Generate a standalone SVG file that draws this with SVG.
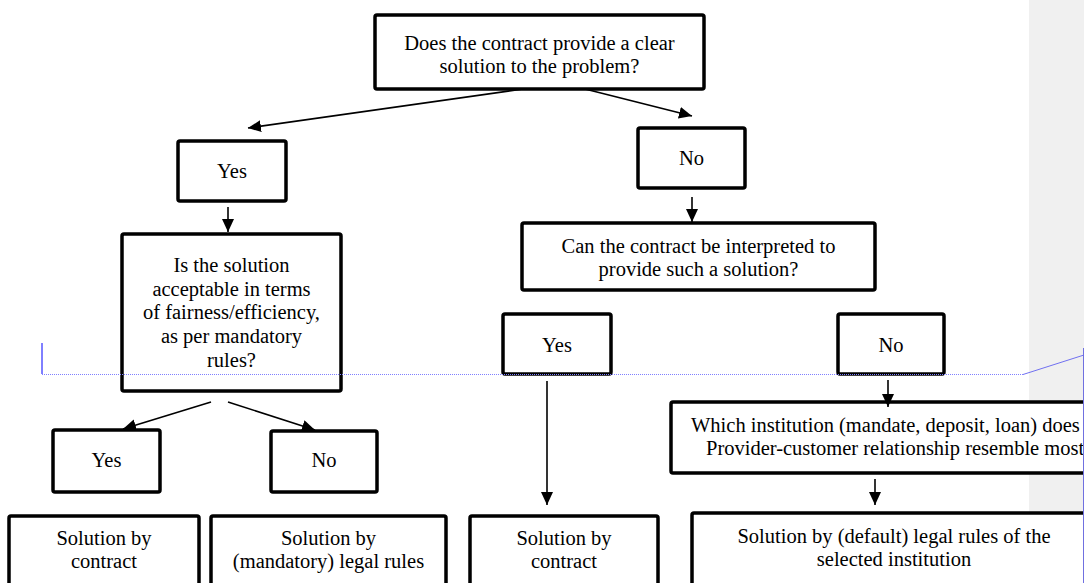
<svg xmlns="http://www.w3.org/2000/svg" width="1084" height="583" viewBox="0 0 1084 583">
<defs>
<style>
.box{fill:#fff;stroke:#000;stroke-width:3.5}
.t{font-family:"Liberation Serif","Times New Roman",serif;font-size:20.5px;fill:#000;text-anchor:middle}
.ts{font-family:"Liberation Serif","Times New Roman",serif;font-size:20.5px;fill:#000}
.c{stroke:#000;stroke-width:1.6;fill:none;marker-end:url(#ah)}
</style>
<marker id="ah" markerUnits="userSpaceOnUse" markerWidth="13" markerHeight="12" refX="13" refY="6" orient="auto" viewBox="0 0 13 12">
<path d="M0,0 L13,6 L0,12 z" fill="#000"/>
</marker>
<clipPath id="cl"><rect x="0" y="0" width="1083" height="583"/></clipPath>
</defs>
<rect x="0" y="0" width="1084" height="583" fill="#fff"/>
<rect x="1029" y="0" width="55" height="583" fill="#f0f0f0"/>

<g id="q1">
<rect class="box" x="375" y="15" width="329" height="74" rx="2"/>
<text class="t" x="539.5" y="50">Does the contract provide a clear</text>
<text class="t" x="539.5" y="73">solution to the problem?</text>
</g>
<g id="yes1">
<rect class="box" x="178" y="141" width="108" height="60" rx="2"/>
<text class="t" x="232" y="178">Yes</text>
</g>
<g id="no1">
<rect class="box" x="638" y="128" width="107" height="60" rx="2"/>
<text class="t" x="691.5" y="165">No</text>
</g>
<g id="q2">
<rect class="box" x="122" y="234" width="219" height="157" rx="2"/>
<text class="t" x="231.5" y="272">Is the solution</text>
<text class="t" x="231.5" y="295.5">acceptable in terms</text>
<text class="t" x="231.5" y="319">of fairness/efficiency,</text>
<text class="t" x="231.5" y="343">as per mandatory</text>
<text class="t" x="231.5" y="367">rules?</text>
</g>
<g id="q3">
<rect class="box" x="522" y="223" width="353" height="67" rx="2"/>
<text class="t" x="698.5" y="253">Can the contract be interpreted to</text>
<text class="t" x="698.5" y="276">provide such a solution?</text>
</g>
<g id="yes2">
<rect class="box" x="53" y="430" width="107" height="62" rx="2"/>
<text class="t" x="106.5" y="467">Yes</text>
</g>
<g id="no2">
<rect class="box" x="271" y="431" width="106" height="61" rx="2"/>
<text class="t" x="324" y="467">No</text>
</g>
<g id="yes3">
<rect class="box" x="503" y="314" width="108" height="60" rx="2"/>
<text class="t" x="557" y="352">Yes</text>
</g>
<g id="no3">
<rect class="box" x="838" y="314" width="106" height="60" rx="2"/>
<text class="t" x="891" y="352">No</text>
</g>
<g id="q4" clip-path="url(#cl)">
<rect class="box" x="671" y="402" width="440" height="71" rx="2"/>
<text class="ts" x="691" y="432">Which institution (mandate, deposit, loan) does</text>
<text class="ts" x="706" y="455">Provider-customer relationship resemble most</text>
</g>
<g id="r1">
<rect class="box" x="9" y="516" width="190" height="80" rx="2"/>
<text class="t" x="104" y="545">Solution by</text>
<text class="t" x="104" y="568">contract</text>
</g>
<g id="r2">
<rect class="box" x="211" y="516" width="235" height="80" rx="2"/>
<text class="t" x="328.5" y="545">Solution by</text>
<text class="t" x="328.5" y="568">(mandatory) legal rules</text>
</g>
<g id="r3">
<rect class="box" x="470" y="516" width="188" height="80" rx="2"/>
<text class="t" x="564" y="545">Solution by</text>
<text class="t" x="564" y="568">contract</text>
</g>
<g id="r4" clip-path="url(#cl)">
<rect class="box" x="692" y="513" width="420" height="83" rx="2"/>
<text class="t" x="894" y="543">Solution by (default) legal rules of the</text>
<text class="t" x="894" y="566">selected institution</text>
</g>

<g id="connectors">
<line class="c" x1="523" y1="89" x2="248" y2="128"/>
<line class="c" x1="585" y1="89" x2="692" y2="116"/>
<line class="c" x1="228" y1="207" x2="228" y2="232"/>
<line class="c" x1="692" y1="197" x2="692" y2="222"/>
<line class="c" x1="211" y1="402" x2="123" y2="429"/>
<line class="c" x1="228" y1="402" x2="315" y2="430"/>
<line class="c" x1="547" y1="381" x2="547" y2="505"/>
<line class="c" x1="888" y1="380" x2="888" y2="407"/>
<line class="c" x1="875" y1="479" x2="875" y2="505"/>
</g>

<g id="markup">
<line x1="42" y1="343" x2="42" y2="374" stroke="#0000ff" stroke-width="1"/>
<line x1="42" y1="374.5" x2="1023" y2="374.5" stroke="#8080ff" stroke-width="1" stroke-dasharray="1,1"/>
<polyline points="1023,374.5 1084,355" stroke="#7070f0" stroke-width="1" fill="none"/>
<line x1="1083.5" y1="348" x2="1083.5" y2="583" stroke="#7070e0" stroke-width="1"/>
</g>
</svg>
